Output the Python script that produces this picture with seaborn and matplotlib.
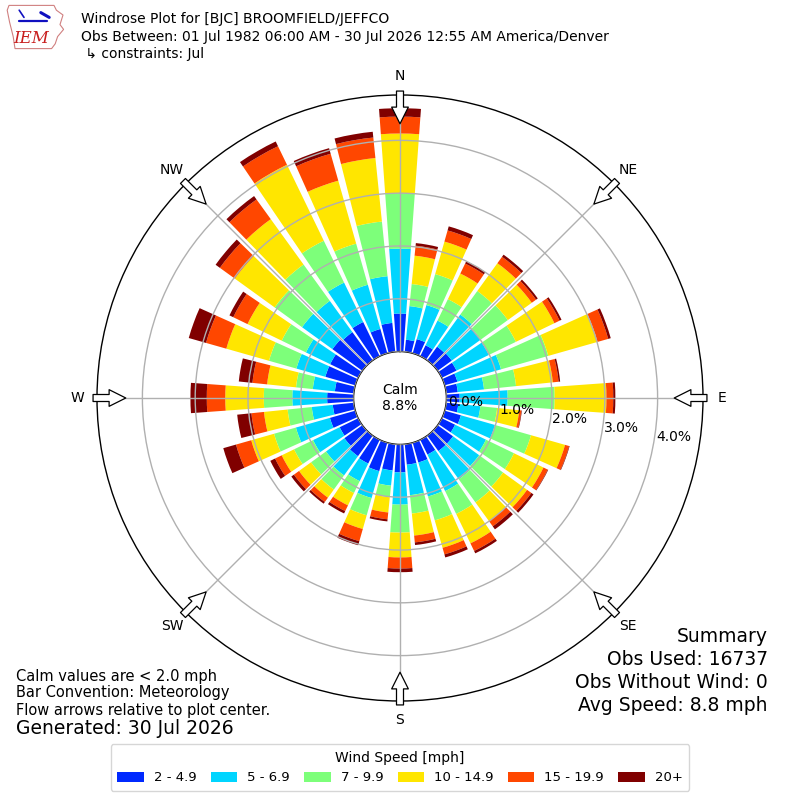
import numpy as np
import matplotlib
matplotlib.use("Agg")
import matplotlib.pyplot as plt
import matplotlib.transforms as mtransforms
import seaborn as sns
from matplotlib.patches import Patch, Polygon

# ---------------------------------------------------------------
# Data (percent of obs, cumulative by speed)
# ---------------------------------------------------------------
directions = list(range(0, 360, 10))
speed_bins = ['2 - 4.9', '5 - 6.9', '7 - 9.9', '10 - 14.9', '15 - 19.9', '20+']
compass = ['N', 'NE', 'E', 'SE', 'S', 'SW', 'W', 'NW']
ring_values = [0, 1, 2, 3, 4]
ring_labels = ['0.0%', '1.0%', '2.0%', '3.0%', '4.0%']
calm_pct = 8.8

# top of each speed bin (cumulative %), one value per direction
top_2_5 = [0.72, 0.23, 0.28, 0.23, 0.32, 0.33, 0.31, 0.25, 0.22, 0.25, 0.23, 0.32,
           0.28, 0.36, 0.36, 0.31, 0.39, 0.39, 0.53, 0.50, 0.56, 0.50, 0.48, 0.42,
           0.39, 0.50, 0.40, 0.50, 0.36, 0.59, 0.59, 0.70, 0.66, 0.72, 0.48, 0.55]
top_5_7 = [1.95, 0.87, 0.95, 0.75, 1.07, 1.01, 0.99, 1.11, 0.72, 1.16, 0.65, 0.99,
           0.93, 0.97, 1.02, 1.08, 1.06, 0.97, 1.14, 0.79, 1.09, 0.87, 0.93, 0.85,
           0.95, 1.17, 0.80, 1.16, 0.78, 1.16, 1.10, 1.41, 1.39, 1.55, 1.35, 1.44]
top_7_10 = [3.00, 1.29, 1.56, 1.20, 1.62, 1.64, 1.56, 2.04, 1.33, 2.05, 0.97, 1.70,
            1.52, 1.53, 1.56, 1.56, 1.53, 1.32, 1.67, 1.01, 1.43, 1.12, 1.26, 1.20,
            1.35, 1.60, 1.26, 1.70, 1.10, 1.70, 1.61, 2.05, 2.24, 2.43, 2.16, 2.48]
top_10_15 = [4.13, 1.83, 2.20, 1.74, 2.27, 2.20, 2.37, 3.01, 2.03, 3.03, 1.39, 2.37,
             2.14, 2.09, 2.00, 2.18, 2.07, 1.74, 2.14, 1.30, 1.70, 1.38, 1.45, 1.48,
             1.61, 2.05, 1.71, 2.43, 1.65, 2.54, 2.33, 2.98, 3.30, 4.03, 3.40, 3.69]
top_15_20 = [4.45, 2.02, 2.42, 1.95, 2.42, 2.30, 2.48, 3.22, 2.14, 3.16, 1.43, 2.45,
             2.23, 2.19, 2.12, 2.34, 2.20, 1.87, 2.35, 1.43, 1.94, 1.50, 1.55, 1.60,
             1.75, 2.35, 1.95, 2.78, 1.93, 2.94, 2.63, 3.33, 3.76, 4.42, 3.93, 4.08]
top_20_up = [4.61, 2.07, 2.50, 2.00, 2.47, 2.34, 2.52, 3.27, 2.17, 3.20, 1.44, 2.46,
             2.24, 2.24, 2.19, 2.39, 2.26, 1.92, 2.42, 1.47, 2.02, 1.55, 1.59, 1.66,
             1.85, 2.60, 2.22, 3.09, 2.19, 3.28, 2.71, 3.43, 3.84, 4.52, 4.04, 4.19]

cum_tops = [top_2_5, top_5_7, top_7_10, top_10_15, top_15_20, top_20_up]

# -----------------------------
# Style
# -----------------------------
sns.set_style("white")
plt.rcParams['font.family'] = ['DejaVu Sans']
plt.rcParams['text.color'] = 'black'
plt.rcParams['xtick.color'] = 'black'
plt.rcParams['ytick.color'] = 'black'
colors = plt.cm.jet(np.linspace(0, 1, 7)[1:])

fig = plt.figure(figsize=(8, 8), dpi=100)
ax = fig.add_axes([97 / 800, 99 / 800, 606 / 800, 606 / 800], projection='polar')
ax.set_theta_zero_location('N')
ax.set_theta_direction(-1)

r_origin = -calm_pct / 10.0
r_max = 4.86
ax.set_rorigin(r_origin)
ax.set_ylim(0, r_max)

# -----------------------------
# Stacked bars
# -----------------------------
theta = np.deg2rad(directions)
bar_width = np.deg2rad(10 * 0.83)
bottom = np.zeros(len(directions))
for tops, color in zip(cum_tops, colors):
    tops = np.array(tops)
    ax.bar(theta, tops - bottom, width=bar_width, bottom=bottom,
           color=color, edgecolor='none', zorder=1)
    bottom = tops

# -----------------------------
# Grid, spines, labels
# -----------------------------
ax.set_axisbelow(False)
ax.set_yticks(ring_values)
ax.set_yticklabels([])
ax.set_thetagrids(range(0, 360, 45), labels=compass, fontsize=10)
ax.tick_params(axis='x', pad=7, length=0, colors='black')
ax.grid(True, color='#b0b0b0', lw=1)
ax.spines['polar'].set_color('black')
ax.spines['polar'].set_linewidth(1)
ax.spines['inner'].set_color('black')
ax.spines['inner'].set_linewidth(1)
ax.spines['inner'].set_visible(True)

# ring labels, nudged a few pixels like the original
lab_trans = mtransforms.offset_copy(ax.transData, fig=fig, x=2, y=4, units='dots')
for rv, lab in zip(ring_values, ring_labels):
    ax.text(np.deg2rad(99.5), rv, lab, ha='left', va='center', fontsize=10,
            zorder=5, transform=lab_trans)

ax.text(0, r_origin, f"Calm\n{calm_pct:.1f}%", ha='center', va='center',
        fontsize=10, linespacing=1.2, zorder=5)

# flow arrows at the compass points, pointing to the plot center
span = r_max - r_origin
r_tail = r_origin + 1.013 * span
r_tip = r_origin + 0.905 * span
for ang in range(0, 360, 45):
    th = np.deg2rad(ang)
    ax.annotate('', xy=(th, r_tip), xytext=(th, r_tail), annotation_clip=False,
                arrowprops=dict(arrowstyle='simple,head_width=1.0,head_length=1.0,tail_width=0.42',
                                fc='white', ec='black', lw=0.9, mutation_scale=12,
                                shrinkA=0, shrinkB=0), zorder=6)

# -----------------------------
# Header text + logo
# -----------------------------
fig.text(81 / 800, 1 - 19 / 800, "Windrose Plot for [BJC] BROOMFIELD/JEFFCO",
         fontsize=10, va='center')
fig.text(81 / 800, 1 - 37 / 800,
         "Obs Between: 01 Jul 1982 06:00 AM - 30 Jul 2026 12:55 AM America/Denver",
         fontsize=10, va='center')
fig.text(81 / 800, 1 - 54 / 800, " \u21b3 constraints: Jul", fontsize=10, va='center')

logo = fig.add_axes([6 / 800, 1 - 51 / 800, 60 / 800, 48 / 800])
logo.set_xlim(0, 1)
logo.set_ylim(0, 1)
logo.axis('off')
iowa = [(0.05, 0.95), (0.80, 0.95), (0.84, 0.85), (0.95, 0.75), (0.90, 0.55),
        (0.96, 0.45), (0.86, 0.30), (0.82, 0.15), (0.76, 0.05), (0.15, 0.05),
        (0.12, 0.30), (0.06, 0.60), (0.02, 0.85)]
logo.add_patch(Polygon(iowa, closed=True, fc='white', ec='#d08080', lw=0.8))
logo.plot([0.22, 0.68], [0.62, 0.62], color='#1010c0', lw=1.6)
logo.plot([0.22, 0.30], [0.85, 0.70], color='#1010c0', lw=1.2)
logo.plot([0.58, 0.72], [0.80, 0.70], color='#1010c0', lw=2.2)
logo.text(0.42, 0.27, "IEM", color='#c81e1e', fontsize=12, fontstyle='italic',
          family='DejaVu Serif', ha='center', va='center')

# -----------------------------
# Footer text
# -----------------------------
fig.text(16 / 800, 1 - 677 / 800, "Calm values are < 2.0 mph", fontsize=10.5, va='center')
fig.text(16 / 800, 1 - 693 / 800, "Bar Convention: Meteorology", fontsize=10.5, va='center')
fig.text(16 / 800, 1 - 710 / 800, "Flow arrows relative to plot center.", fontsize=10.5, va='center')
fig.text(16 / 800, 1 - 729 / 800, "Generated: 30 Jul 2026", fontsize=13.5, va='center')

summary = ["Summary", "Obs Used: 16737", "Obs Without Wind: 0", "Avg Speed: 8.8 mph"]
for i, line in enumerate(summary):
    fig.text(768 / 800, 1 - (636 + 23.3 * i) / 800, line, fontsize=13.5,
             ha='right', va='center')

handles = [Patch(facecolor=c, edgecolor='none') for c in colors]
leg = fig.legend(handles, speed_bins, loc='lower center', ncol=6,
                 bbox_to_anchor=(0.5, 0.003), title='Wind Speed [mph]',
                 fontsize=9.5, title_fontsize=10, frameon=True,
                 handlelength=2.0, handleheight=0.75, columnspacing=1.1,
                 handletextpad=0.75, borderpad=0.5)
leg.get_frame().set_edgecolor('#cccccc')

fig.savefig("out.png", dpi=100)
